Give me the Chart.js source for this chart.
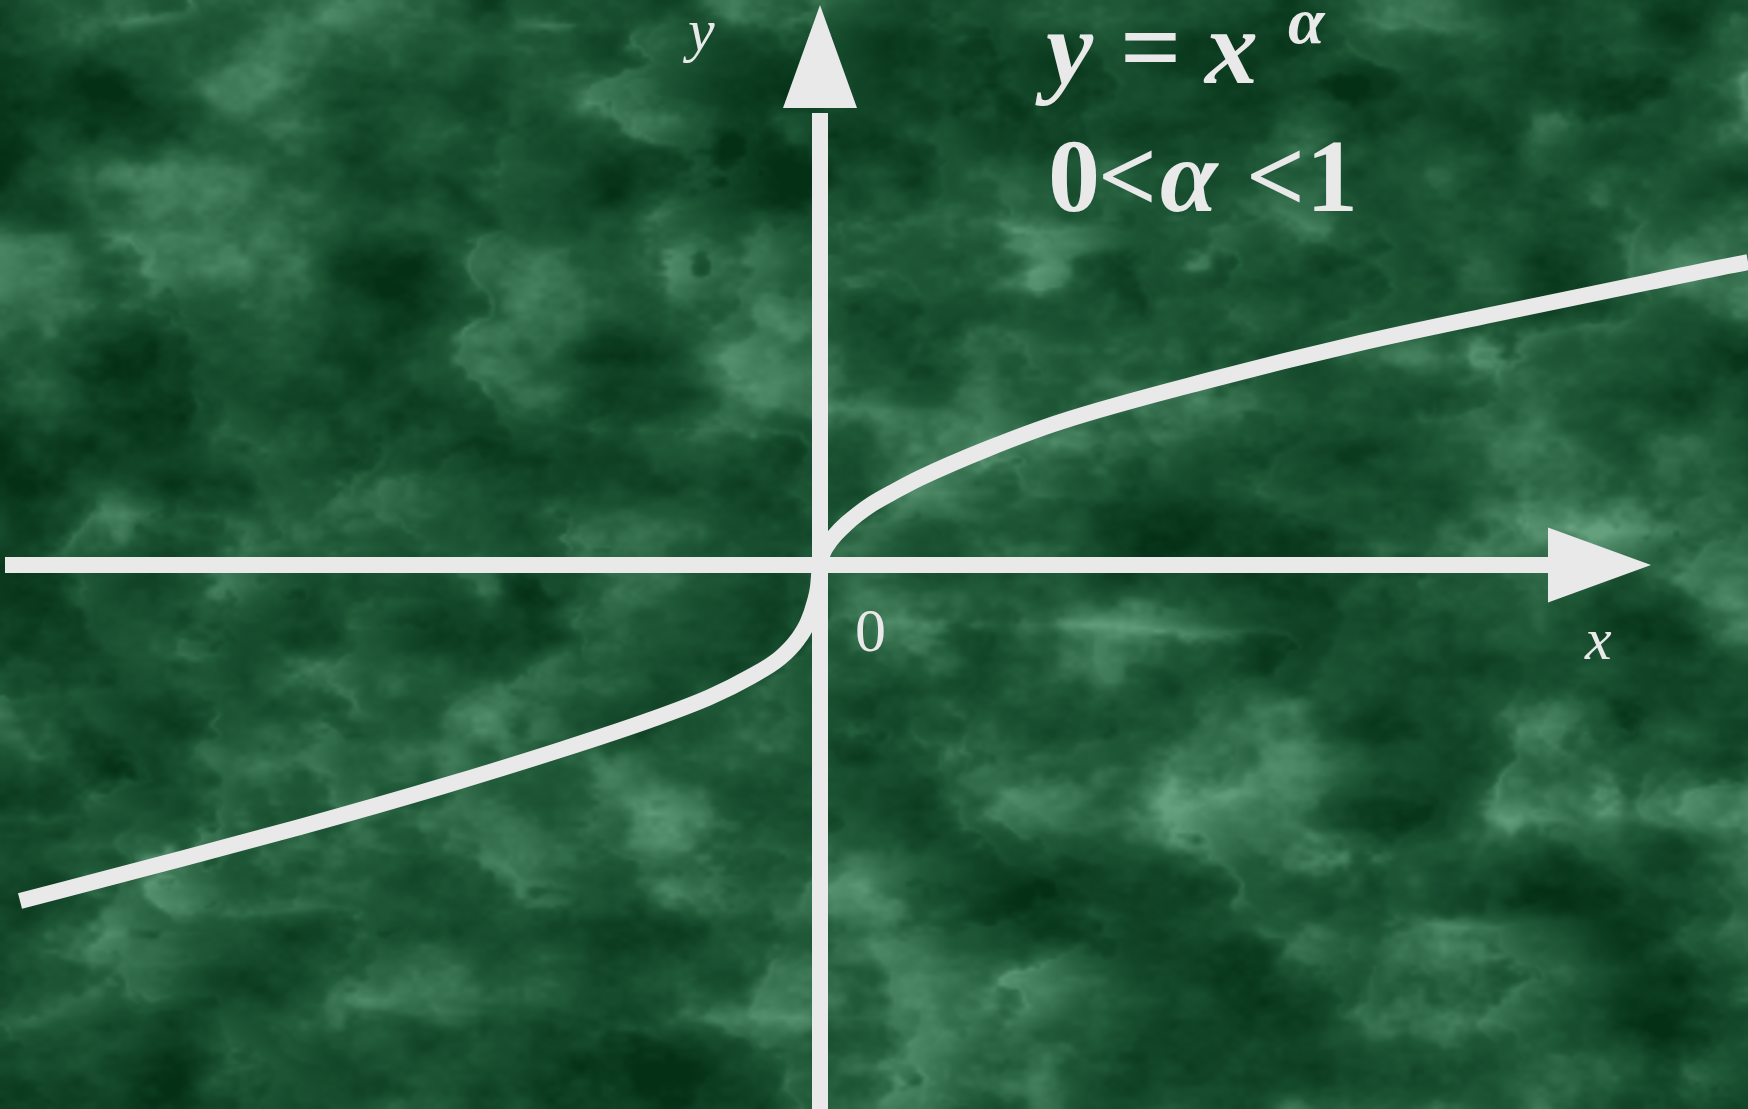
<!DOCTYPE html>
<html>
<head>
<meta charset="utf-8">
<title>y = x^α, 0 &lt; α &lt; 1</title>
<script src="https://cdn.jsdelivr.net/npm/chart.js@4.4.1/dist/chart.umd.min.js"></script>
<style>
  html, body { margin: 0; padding: 0; overflow: hidden; background: #1d5233; }
  #chart { display: block; }
</style>
</head>
<body>
<canvas id="chart" width="1748" height="1109"></canvas>
<script>
// power curve y = x^a with 0 < a < 1
const curveX = [-8.00, -6.70, -5.20, -3.80, -2.60, -1.70, -1.10, -0.70, -0.40, -0.22, -0.12, -0.05, -0.02, 0,
                0.03, 0.08, 0.16, 0.26, 0.38, 0.52, 0.75, 1.00, 1.67, 2.40, 3.90, 5.40, 6.80, 8.30, 9.28, 9.40];
const curveY = [-3.36, -3.02, -2.62, -2.22, -1.85, -1.55, -1.32, -1.12, -0.93, -0.74, -0.57, -0.36, -0.22, 0,
                0.12, 0.21, 0.31, 0.41, 0.51, 0.61, 0.74, 0.87, 1.16, 1.43, 1.85, 2.22, 2.52, 2.83, 3.03, 3.05];

// axis extents (arrow base / tip) in data units
const xAxisStart = -8.15, xAxisEnd = 7.28, xArrowTip = 8.31;
const yAxisStart = -5.60, yAxisEnd = 4.57, yArrowTip = 5.60;

const ink = '#e9e9e9';

// ---- marble background -------------------------------------------------
function hash(ix, iy) {
    let h = Math.imul(ix, 374761393) + Math.imul(iy, 668265263);
    h = Math.imul(h ^ (h >>> 13), 1274126177);
    return ((h ^ (h >>> 16)) >>> 0) / 4294967295;
}
function noise(x, y) {
    const ix = Math.floor(x), iy = Math.floor(y);
    const fx = x - ix, fy = y - iy;
    const sx = fx * fx * (3 - 2 * fx), sy = fy * fy * (3 - 2 * fy);
    const a = hash(ix, iy), b = hash(ix + 1, iy);
    const c = hash(ix, iy + 1), d = hash(ix + 1, iy + 1);
    const top = a + (b - a) * sx, bot = c + (d - c) * sx;
    return top + (bot - top) * sy;
}
function fbm(x, y, oct, gain) {
    let s = 0, amp = 1, tot = 0;
    for (let k = 0; k < oct; k++) {
        s += noise(x, y) * amp; tot += amp;
        x *= 2.03; y *= 2.01; amp *= gain;
    }
    return s / tot;
}
function ridge(x, y, oct) {
    let s = 0, amp = 1, tot = 0;
    for (let k = 0; k < oct; k++) {
        const n = 1 - Math.abs(2 * noise(x + k * 17.3, y - k * 9.1) - 1);
        s += n * n * amp; tot += amp;
        x *= 2.1; y *= 1.9; amp *= 0.5;
    }
    return s / tot;
}
function makeMarble(w, h) {
    const c = document.createElement('canvas');
    c.width = w; c.height = h;
    const g = c.getContext('2d');
    const img = g.createImageData(w, h);
    const stops = [[4, 48, 22], [32, 90, 57], [100, 160, 126]];
    let p = 0;
    for (let j = 0; j < h; j++) {
        for (let i = 0; i < w; i++) {
            const x = i / 34, y = j / 30;
            const cloud = fbm(x * 0.8 + 11.0, y + 5.0, 5, 0.58);
            const vein = ridge(x * 0.7 + cloud * 2.0, y * 0.9 + 3.3, 3);
            let t = 0.5 + (cloud - 0.5) * 1.35 + 0.32 * Math.pow(vein, 2.5) - 0.14;
            t = Math.min(1, Math.max(0, t));
            let col;
            if (t < 0.5) {
                const u = t / 0.5;
                col = stops[0].map((v, k) => v + (stops[1][k] - v) * u);
            } else {
                const u = (t - 0.5) / 0.5;
                col = stops[1].map((v, k) => v + (stops[2][k] - v) * u);
            }
            img.data[p++] = col[0]; img.data[p++] = col[1]; img.data[p++] = col[2]; img.data[p++] = 255;
        }
    }
    g.putImageData(img, 0, 0);
    return c;
}
const marble = makeMarble(583, 370);

const backdrop = {
    id: 'backdrop',
    beforeDraw(chart) {
        const ctx = chart.ctx;
        ctx.save();
        ctx.imageSmoothingEnabled = true;
        ctx.imageSmoothingQuality = 'high';
        ctx.drawImage(marble, 0, 0, chart.width, chart.height);
        ctx.restore();
    }
};

// arrowheads and the text labels, placed through the scales
const decorations = {
    id: 'decorations',
    afterDatasetsDraw(chart) {
        const ctx = chart.ctx;
        const sx = chart.scales.x, sy = chart.scales.y;
        const ox = sx.getPixelForValue(0), oy = sy.getPixelForValue(0);
        ctx.save();
        ctx.fillStyle = ink;

        // x arrow
        const xb = sx.getPixelForValue(xAxisEnd), xt = sx.getPixelForValue(xArrowTip);
        ctx.beginPath();
        ctx.moveTo(xb, oy - 37.5); ctx.lineTo(xt, oy); ctx.lineTo(xb, oy + 37.5);
        ctx.closePath(); ctx.fill();

        // y arrow
        const yb = sy.getPixelForValue(yAxisEnd), yt = sy.getPixelForValue(yArrowTip);
        ctx.beginPath();
        ctx.moveTo(ox - 37, yb); ctx.lineTo(ox, yt); ctx.lineTo(ox + 37, yb);
        ctx.closePath(); ctx.fill();

        ctx.textAlign = 'left';
        ctx.textBaseline = 'alphabetic';

        // axis names and origin
        ctx.font = 'italic 60px "Liberation Serif", "DejaVu Serif", serif';
        ctx.fillText('y', ox - 132, 50);
        ctx.fillText('x', xt - 66, oy + 94);
        ctx.font = '62px "Liberation Serif", "DejaVu Serif", serif';
        ctx.fillText('0', ox + 35, oy + 86);

        // formula
        const bi = 'italic bold 106px "Liberation Serif", "DejaVu Serif", serif';
        const b = 'bold 108px "Liberation Serif", "DejaVu Serif", serif';
        ctx.font = bi; ctx.fillText('y', 1046, 83);
        ctx.font = b;  ctx.fillText('=', 1120, 83);
        ctx.font = bi; ctx.fillText('x', 1205, 83);
        ctx.font = 'italic bold 66px "Liberation Serif", "DejaVu Serif", serif';
        ctx.fillText('α', 1288, 43);

        ctx.font = 'bold 104px "Liberation Serif", "DejaVu Serif", serif';
        ctx.fillText('0', 1048, 211);
        ctx.fillText('<', 1098, 211);
        ctx.font = 'italic bold 104px "Liberation Serif", "DejaVu Serif", serif';
        ctx.fillText('α', 1160, 211);
        ctx.font = 'bold 104px "Liberation Serif", "DejaVu Serif", serif';
        ctx.fillText('<', 1246, 211);
        ctx.fillText('1', 1306, 211);
        ctx.restore();
    }
};

const curvePoints = curveX.map((x, i) => ({ x: x, y: curveY[i] }));

const ctx = document.getElementById('chart').getContext('2d');
new Chart(ctx, {
    type: 'scatter',
    data: {
        datasets: [{
            data: [{ x: xAxisStart, y: 0 }, { x: xAxisEnd + 0.05, y: 0 }],
            showLine: true, borderColor: ink, borderWidth: 16, pointRadius: 0
        }, {
            data: [{ x: 0, y: yAxisStart }, { x: 0, y: yAxisEnd - 0.05 }],
            showLine: true, borderColor: ink, borderWidth: 16, pointRadius: 0
        }, {
            data: curvePoints,
            showLine: true, borderColor: ink, borderWidth: 16, pointRadius: 0,
            cubicInterpolationMode: 'monotone'
        }]
    },
    options: {
        responsive: false,
        animation: false,
        devicePixelRatio: 1,
        layout: { padding: 0 },
        plugins: { legend: { display: false }, tooltip: { enabled: false } },
        scales: {
            x: { type: 'linear', min: -8.2, max: 9.28, display: false },
            y: { type: 'linear', min: -5.44, max: 5.65, display: false }
        }
    },
    plugins: [backdrop, decorations]
});
</script>
</body>
</html>
